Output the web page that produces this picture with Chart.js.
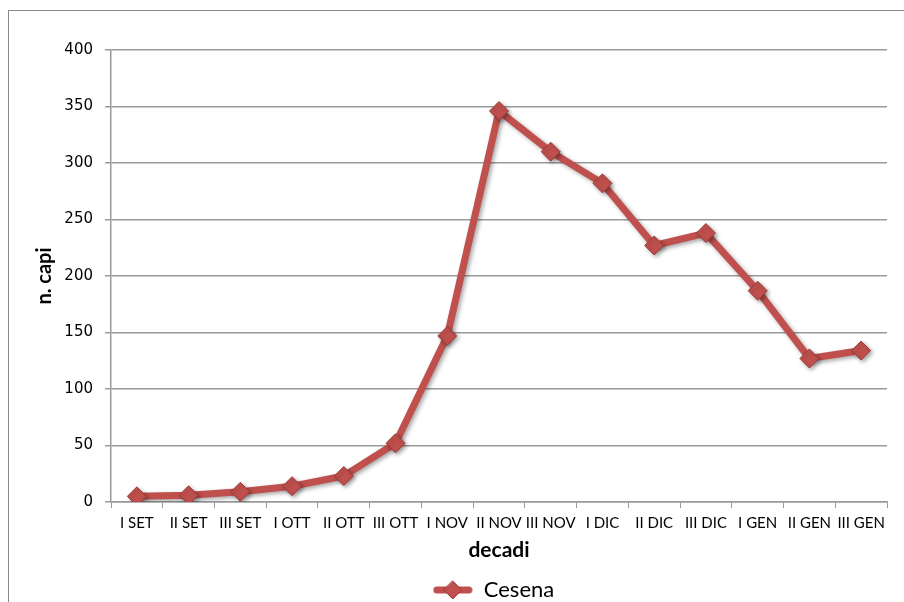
<!DOCTYPE html>
<html>
<head>
<meta charset="utf-8">
<script src="https://cdn.jsdelivr.net/npm/chart.js@4"></script>
<style>
  html, body { margin: 0; padding: 0; background: #fff; }
  #wrap { position: relative; width: 904px; height: 602px; overflow: hidden; }
  #frame { position: absolute; left: 8px; top: 10px; width: 1000px; height: 700px;
           border-left: 1.5px solid #8a8a8a; border-top: 1.5px solid #8a8a8a; }
  canvas { position: absolute; left: 0; top: 0; }
</style>
</head>
<body>
<div id="wrap">
  <div id="frame"></div>
  <canvas id="chart" width="904" height="602"></canvas>
</div>
<script>
// dati
const decadi = ['I SET', 'II SET', 'III SET', 'I OTT', 'II OTT', 'III OTT', 'I NOV', 'II NOV',
  'III NOV', 'I DIC', 'II DIC', 'III DIC', 'I GEN', 'II GEN', 'III GEN'];
const cesena = [5, 6, 9, 14, 23, 52, 147, 346, 310, 282, 227, 238, 187, 127, 134];
const yTicks = [0, 50, 100, 150, 200, 250, 300, 350, 400];

const red = '#c0504d';
const gridGray = '#9a9a9a';

// simbolo legenda: linea + rombo
function legendSymbol() {
  const c = document.createElement('canvas');
  c.width = 40; c.height = 22;
  const g = c.getContext('2d');
  g.strokeStyle = red; g.lineWidth = 7; g.lineCap = 'round';
  g.beginPath(); g.moveTo(4, 11); g.lineTo(36, 11); g.stroke();
  g.fillStyle = red; g.strokeStyle = '#9c3b38'; g.lineWidth = 1;
  g.beginPath(); g.moveTo(20, 2); g.lineTo(29, 11); g.lineTo(20, 20); g.lineTo(11, 11); g.closePath();
  g.fill(); g.stroke();
  return c;
}

// ombra sotto la linea
const shadowPlugin = {
  id: 'shadow',
  beforeDatasetsDraw(chart) {
    const ctx = chart.ctx;
    ctx.save();
    ctx.shadowColor = 'rgba(0,0,0,0.35)';
    ctx.shadowBlur = 4;
    ctx.shadowOffsetX = 2;
    ctx.shadowOffsetY = 2;
  },
  afterDatasetsDraw(chart) {
    chart.ctx.restore();
  }
};

// legenda centrata sotto l'area del grafico
const legendShift = {
  id: 'legendShift',
  afterLayout(chart) {
    const lg = chart.legend;
    lg.left += 50;
    lg.right += 50;
    lg.top += 9;
    lg.bottom += 9;
  }
};

const ctx = document.getElementById('chart').getContext('2d');
new Chart(ctx, {
  type: 'line',
  data: {
    labels: decadi,
    datasets: [{
      label: 'Cesena',
      data: cesena,
      borderColor: red,
      backgroundColor: red,
      borderWidth: 7,
      tension: 0,
      pointStyle: 'rectRot',
      pointRadius: 9.5,
      pointBorderColor: '#9c3b38',
      pointBorderWidth: 1,
      pointBackgroundColor: red
    }]
  },
  options: {
    responsive: false,
    animation: false,
    layout: { padding: { left: 0, right: 17, top: 50, bottom: 0 } },
    plugins: {
      tooltip: { enabled: false },
      legend: {
        position: 'bottom',
        labels: {
          usePointStyle: true,
          pointStyle: legendSymbol(),
          pointStyleWidth: 40,
          padding: 0,
          color: '#000',
          font: { family: 'Lato', size: 22 }
        }
      }
    },
    scales: {
      x: {
        offset: true,
        grid: { offset: true, display: true, drawOnChartArea: false, color: gridGray, tickLength: 6 },
        border: { color: gridGray, width: 1.5 },
        ticks: {
          autoSkip: false, maxRotation: 0, color: '#000', padding: 6,
          font: { family: 'Lato', size: 15 }
        },
        title: {
          display: true, text: 'decadi', color: '#000',
          font: { family: 'Lato', size: 21, weight: 'bold' },
          padding: { top: 0, bottom: 7 }
        },
        afterFit(scale) { scale.height = 68; }
      },
      y: {
        min: 0, max: 400,
        afterBuildTicks(scale) { scale.ticks = yTicks.map(v => ({ value: v })); },
        grid: { color: gridGray, lineWidth: 1.5, tickLength: 6 },
        border: { color: gridGray, width: 1.5 },
        ticks: {
          color: '#000', padding: 12,
          font: { family: 'DejaVu Sans', size: 15 }
        },
        title: {
          display: true, text: 'n. capi', color: '#000',
          font: { family: 'Lato', size: 20, weight: 'bold' },
          padding: { top: 33, bottom: 0 }
        },
        afterFit(scale) { scale.width = 111; }
      }
    }
  },
  plugins: [shadowPlugin, legendShift]
});
</script>
</body>
</html>
